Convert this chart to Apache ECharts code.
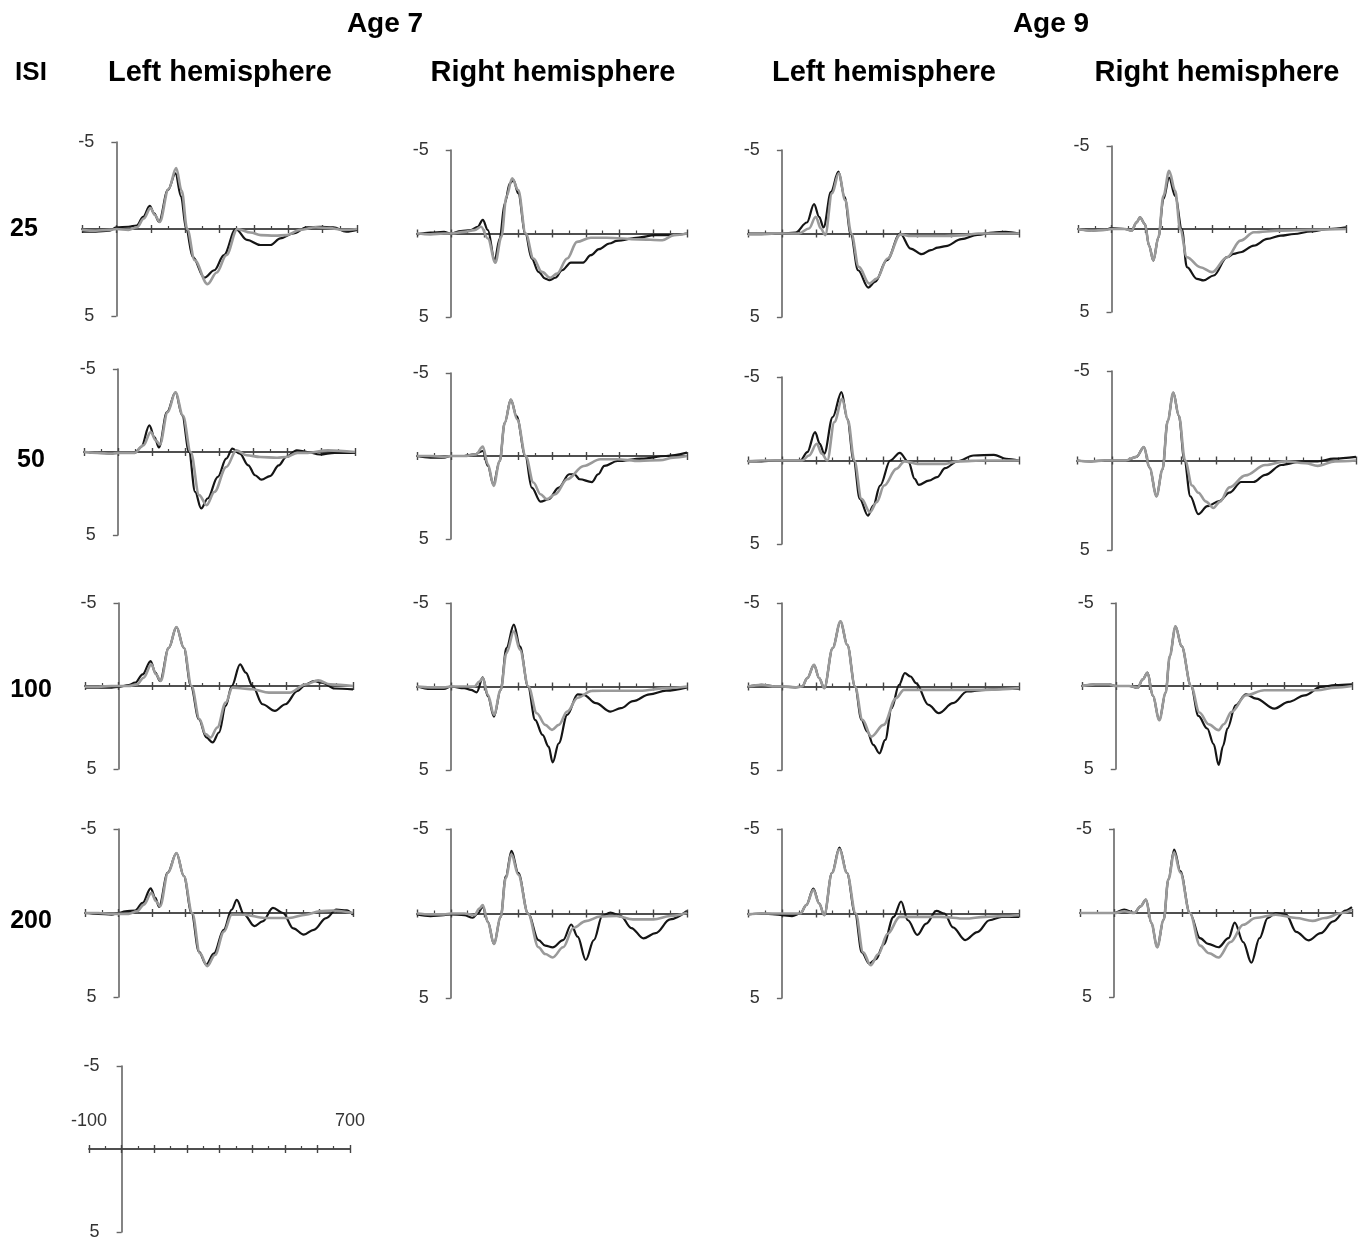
<!DOCTYPE html>
<html>
<head>
<meta charset="utf-8">
<script src="https://cdn.jsdelivr.net/npm/echarts@6/dist/echarts.min.js"></script>
<style>html,body{margin:0;padding:0;background:#fff}#c{width:1362px;height:1245px}</style>
</head>
<body>
<div id="c"></div>
<script>
// ---------- categories / labels ----------
const ages = ['Age 7', 'Age 9'];
const hemispheres = ['Left hemisphere', 'Right hemisphere'];
const isiLevels = ['25', '50', '100', '200'];
const yTickValues = [-5, 5];
const xTickLabelValues = [-100, 700];

// ---------- waveforms [ms, µV] (dark trace / grey trace) ----------
// Age 7, left hemisphere
const A7_LH_25_dark = [[-100,0.15],[-60,0.15],[-20,0.1],[0,-0.1],[35,-0.13],[59,-0.2],[78,-0.7],[97,-1.33],[110,-0.9],[124,-0.42],[150,-2.25],[172,-3.2],[188,-1.87],[203,0],[222,1.6],[256,2.8],[285,2.37],[313,1.5],[347,0],[380,0.63],[419,0.92],[448,0.92],[477,0.54],[515,0.25],[554,-0.1],[592,-0.13],[631,-0.1],[669,0.15],[700,0.05]];
const A7_LH_25_grey = [[-100,0.05],[-60,0.1],[-20,0.05],[0,0],[35,0.05],[60,-0.1],[80,-0.6],[99,-1.2],[112,-0.8],[126,-0.4],[152,-2.3],[174,-3.5],[190,-2.2],[206,0],[228,1.8],[265,3.17],[292,2.5],[320,1.5],[352,0],[390,0.2],[420,0.35],[460,0.38],[496,0.35],[535,0.05],[580,-0.1],[620,-0.05],[660,0.05],[700,0]];
const A7_LH_50_dark = [[-100,0],[-60,0.05],[-20,0.1],[0,0.05],[50,0.05],[69,-0.3],[93,-1.6],[108,-0.9],[121,-0.27],[145,-2.4],[170,-3.6],[190,-2.2],[210,0],[228,2.4],[246,3.4],[265,2.8],[295,1.5],[320,0.4],[338,-0.2],[360,0.1],[385,0.8],[405,1.4],[424,1.67],[449,1.45],[475,0.8],[497,0.3],[528,-0.1],[559,0],[596,0.15],[640,0.05],[700,0.05]];
const A7_LH_50_grey = [[-100,0],[-60,0.05],[-20,0.1],[0,0.05],[50,0.05],[75,-0.4],[97,-1.2],[112,-0.7],[124,-0.45],[147,-2.4],[170,-3.6],[192,-2.2],[215,0],[240,2.6],[262,3.2],[285,2.4],[320,0.9],[350,-0.1],[380,0.2],[420,0.3],[470,0.35],[497,0.3],[530,0.05],[560,0.05],[620,-0.1],[700,0]];
const A7_LH_100_dark = [[-100,0.1],[-60,0.1],[-20,0.1],[0,0.05],[30,-0.05],[50,-0.2],[72,-0.7],[96,-1.5],[110,-0.8],[124,-0.3],[150,-2.3],[173,-3.55],[195,-2.3],[216,0],[240,2.0],[262,3.1],[281,3.4],[300,2.8],[320,1.2],[338,0],[363,-1.3],[380,-0.8],[400,0],[430,1.1],[467,1.5],[498,1.1],[534,0.3],[560,-0.1],[583,-0.3],[608,-0.2],[645,0.15],[700,0.2]];
const A7_LH_100_grey = [[-100,0.05],[-60,0.05],[-20,0],[0,0],[30,0],[55,-0.1],[75,-0.5],[98,-1.3],[112,-0.7],[126,-0.3],[150,-2.3],[173,-3.55],[195,-2.3],[218,0],[242,2.0],[260,2.9],[275,3.1],[295,2.5],[320,1.0],[340,0.1],[370,0.15],[400,0.2],[449,0.4],[510,0.4],[559,-0.1],[596,-0.34],[632,-0.1],[700,0]];
const A7_LH_200_dark = [[-100,0],[-60,0.05],[-20,0.1],[0,0],[20,-0.1],[50,-0.15],[72,-0.6],[96,-1.47],[110,-0.9],[121,-0.37],[147,-2.4],[173,-3.57],[195,-2.2],[218,0],[240,2.3],[262,3.06],[285,2.4],[314,1.0],[338,-0.2],[353,-0.78],[375,0.1],[406,0.78],[430,0.5],[461,-0.3],[491,0],[522,0.92],[553,1.29],[583,1.0],[620,0.3],[650,-0.2],[681,-0.16],[700,0.1]];
const A7_LH_200_grey = [[-100,0],[-60,0],[-20,0.05],[0,0.05],[30,0.05],[55,-0.1],[76,-0.5],[98,-1.2],[112,-0.7],[124,-0.4],[148,-2.4],[173,-3.57],[195,-2.2],[220,0],[243,2.4],[265,3.16],[288,2.5],[315,1.1],[338,0.1],[375,0.1],[436,0.3],[510,0.3],[559,0.1],[600,-0.1],[640,-0.15],[700,0]];
// Age 7, right hemisphere
const A7_RH_25_dark = [[-100,0.05],[-60,-0.05],[-20,-0.1],[0,0],[30,-0.15],[60,-0.2],[80,-0.4],[95,-0.82],[110,-0.2],[130,1.6],[145,0.3],[160,-1.8],[175,-3.0],[186,-3.2],[200,-2.4],[221,0],[240,1.5],[260,2.3],[280,2.7],[292,2.8],[310,2.65],[330,2.2],[356,1.74],[392,1.74],[415,1.3],[439,0.94],[470,0.6],[492,0.44],[556,0.24],[604,0.1],[650,0.1],[700,0]];
const A7_RH_25_grey = [[-100,0],[-60,0.05],[-20,0],[0,0],[40,-0.1],[70,-0.2],[90,-0.4],[110,0.3],[132,1.75],[150,0.2],[165,-2.2],[182,-3.3],[200,-2.6],[222,0],[245,1.5],[270,2.3],[295,2.65],[315,2.4],[345,1.5],[374,0.5],[415,0.25],[462,0.25],[556,0.35],[627,0.4],[662,0.1],[700,0]];
const A7_RH_50_dark = [[-100,0],[-60,0.1],[-20,0.1],[0,0],[40,0],[70,-0.1],[95,-0.3],[110,0.6],[126,1.7],[145,0.3],[160,-2.0],[178,-3.4],[195,-2.4],[221,0],[240,1.9],[266,2.75],[290,2.6],[320,1.9],[351,1.1],[366,1.1],[382,1.4],[418,1.57],[437,1.1],[455,0.6],[494,0.3],[565,0.16],[638,0],[700,-0.2]];
const A7_RH_50_grey = [[-100,0],[-60,0],[-20,0.05],[0,0],[40,0],[75,-0.1],[95,-0.57],[110,0.5],[127,1.8],[145,0.3],[160,-2.0],[178,-3.4],[197,-2.2],[222,0],[245,1.6],[266,2.3],[284,2.6],[310,2.3],[345,1.4],[394,0.6],[443,0.2],[491,0.2],[560,0.3],[620,0.25],[660,0.1],[700,0]];
const A7_RH_100_dark = [[-100,0],[-60,0.15],[-20,0.15],[0,0],[40,0.1],[60,0.2],[77,0.35],[95,-0.55],[110,0.6],[128,1.8],[148,0.2],[165,-2.3],[187,-3.7],[205,-2.4],[229,0],[250,2.0],[272,2.9],[290,3.6],[302,4.55],[320,3.4],[345,1.7],[376,0.47],[394,0.5],[430,1.0],[473,1.5],[504,1.3],[540,0.88],[589,0.47],[638,0.25],[700,0.05]];
const A7_RH_100_grey = [[-100,0],[-60,0.05],[-20,0.05],[0,0],[40,0],[70,0],[85,-0.3],[95,-0.5],[110,0.5],[128,1.7],[148,0.2],[165,-2.0],[187,-3.3],[205,-2.2],[230,0],[255,1.6],[280,2.3],[300,2.6],[320,2.3],[345,1.5],[376,0.67],[418,0.26],[480,0.25],[560,0.25],[640,0.1],[700,0]];
const A7_RH_200_dark = [[-100,0.05],[-60,0.15],[-20,0.1],[0,0.05],[40,0.1],[65,0.25],[80,0],[95,-0.4],[110,0.5],[128,1.8],[148,0.2],[163,-2.2],[180,-3.7],[200,-2.4],[229,0],[260,1.57],[280,1.9],[302,2.0],[333,1.57],[357,0.65],[376,1.37],[400,2.75],[424,1.57],[449,0.14],[473,-0.06],[504,0.15],[535,0.86],[571,1.47],[607,1.16],[650,0.35],[700,-0.15]];
const A7_RH_200_grey = [[-100,0],[-60,0.05],[-20,0.05],[0,0],[40,0],[70,0.1],[85,-0.3],[95,-0.5],[110,0.5],[128,1.8],[148,0.2],[163,-2.1],[180,-3.5],[200,-2.3],[229,0],[260,2.0],[280,2.4],[302,2.6],[333,2.0],[363,0.86],[400,0.45],[443,0.18],[491,0.15],[540,0.35],[601,0.35],[650,0.15],[700,-0.05]];
// Age 9, left hemisphere
const A9_LH_25_dark = [[-100,0],[-60,0],[-20,0],[0,0],[40,-0.05],[74,-0.66],[95,-1.76],[110,-1.0],[123,-0.36],[145,-2.5],[167,-3.7],[185,-2.2],[203,0],[225,2.2],[255,3.24],[275,2.9],[310,1.6],[349,0],[380,0.9],[413,1.24],[440,1.0],[460,0.84],[484,0.76],[530,0.34],[577,0.08],[624,-0.06],[660,-0.1],[700,0]];
const A9_LH_25_grey = [[-100,0.05],[-60,0.05],[-20,0],[0,0],[50,0],[80,-0.3],[100,-1.0],[115,-0.3],[128,0.1],[148,-2.4],[168,-3.6],[187,-2.0],[205,0],[227,2.0],[258,3.0],[280,2.7],[312,1.5],[350,0.05],[380,0.15],[420,0.15],[480,0.15],[540,0.1],[580,0],[700,0]];
const A9_LH_50_dark = [[-100,0.05],[-60,0.05],[-20,0],[0,0],[55,0],[75,-0.5],[98,-1.7],[112,-1.0],[125,-0.4],[150,-2.6],[176,-4.1],[193,-2.5],[212,0],[230,2.3],[254,3.3],[270,2.7],[290,1.5],[320,0],[348,-0.46],[374,0.1],[392,1.1],[404,1.46],[434,1.2],[458,1.0],[482,0.46],[518,0.05],[566,-0.3],[626,-0.34],[662,-0.1],[700,0]];
const A9_LH_50_grey = [[-100,0.05],[-60,0],[-20,0],[0,0],[60,0],[80,-0.3],[103,-1.0],[118,-0.4],[134,0],[155,-2.3],[178,-3.7],[195,-2.4],[214,0],[235,2.3],[260,3.1],[280,2.5],[302,1.5],[338,0.5],[362,0.05],[400,0.2],[482,0.2],[520,0.05],[600,0],[700,0]];
const A9_LH_100_dark = [[-100,0],[-60,-0.1],[-20,0],[0,0],[40,0.05],[60,0],[75,-0.5],[95,-1.3],[110,-0.5],[125,0.1],[150,-2.3],[173,-3.9],[193,-2.5],[216,0],[235,2.0],[252,2.7],[270,3.5],[288,4.0],[305,3.2],[324,1.3],[346,-0.1],[363,-0.8],[380,-0.6],[396,-0.2],[433,1.1],[463,1.6],[505,1.0],[547,0.3],[601,0.2],[650,0.15],[700,0.15]];
const A9_LH_100_grey = [[-100,0],[-60,-0.1],[-20,0],[0,0],[40,0.05],[60,0],[75,-0.5],[95,-1.3],[110,-0.5],[125,0.1],[150,-2.3],[173,-3.9],[193,-2.5],[216,0],[238,2.0],[264,3.0],[300,2.3],[337,0.7],[360,0.2],[420,0.2],[500,0.2],[600,0.2],[700,0.1]];
const A9_LH_200_dark = [[-100,0.05],[-60,0],[-20,0.05],[0,0.1],[30,0.15],[55,0],[72,-0.5],[93,-1.47],[110,-0.6],[125,0.1],[148,-2.4],[170,-3.9],[192,-2.4],[216,0],[236,2.3],[258,2.96],[278,2.7],[300,1.84],[330,0.2],[352,-0.71],[372,0.4],[400,1.27],[426,0.6],[456,-0.16],[480,0],[505,0.82],[541,1.57],[577,1.1],[613,0.4],[649,0.2],[700,0.2]];
const A9_LH_200_grey = [[-100,0.05],[-60,0],[-20,0],[0,0],[30,0],[55,0],[72,-0.5],[93,-1.4],[110,-0.6],[125,0.1],[148,-2.4],[170,-3.8],[192,-2.4],[218,0],[240,2.3],[262,3.06],[285,2.4],[312,1.2],[348,0.2],[396,0.2],[468,0.2],[541,0.3],[600,0.2],[650,0.15],[700,0.1]];
// Age 9, right hemisphere
const A9_RH_25_dark = [[-100,0],[-60,0.1],[-20,0.05],[0,-0.05],[40,0],[60,0.1],[75,-0.4],[85,-0.7],[100,-0.3],[112,1.0],[125,1.9],[140,0.5],[155,-1.8],[172,-3.1],[190,-2.0],[210,0],[225,2.3],[255,3.0],[275,3.1],[305,2.8],[345,1.7],[365,1.5],[385,1.4],[425,1.0],[465,0.6],[505,0.4],[545,0.3],[595,0.15],[650,0],[700,-0.1]];
const A9_RH_25_grey = [[-100,0],[-60,0.1],[-20,0.05],[0,0],[40,0],[60,0.1],[75,-0.4],[85,-0.7],[100,-0.3],[112,1.0],[125,1.9],[140,0.5],[155,-2.0],[172,-3.5],[190,-2.3],[205,0],[225,1.7],[265,2.3],[300,2.6],[345,1.7],[385,0.7],[425,0.2],[500,0.1],[600,0.05],[700,0]];
const A9_RH_50_dark = [[-100,0],[-60,0.05],[-20,0],[0,0],[40,0],[70,-0.2],[92,-0.75],[108,0.4],[128,2.0],[145,0.5],[160,-2.2],[176,-3.8],[192,-2.5],[208,0],[225,2.0],[248,3.0],[274,2.55],[308,2.27],[337,1.8],[371,1.2],[406,1.2],[440,0.8],[486,0.25],[544,0.05],[590,0.05],[636,-0.1],[700,-0.2]];
const A9_RH_50_grey = [[-100,0],[-60,0.05],[-20,0],[0,0],[40,0],[70,-0.2],[92,-0.75],[108,0.4],[128,2.0],[145,0.5],[160,-2.2],[176,-3.8],[192,-2.5],[210,0],[230,1.4],[248,1.8],[270,2.3],[291,2.65],[310,2.3],[337,1.5],[383,0.83],[440,0.25],[497,0.05],[555,0.15],[590,0.3],[640,0.05],[700,0]];
const A9_RH_100_dark = [[-100,0],[-60,-0.1],[-20,-0.1],[0,0],[40,0],[65,0.1],[80,-0.4],[94,-0.8],[110,0.6],[129,2.06],[148,0.4],[160,-1.8],[177,-3.6],[195,-2.4],[223,0],[245,1.8],[271,2.56],[290,3.5],[305,4.76],[318,3.6],[331,2.56],[355,1.16],[386,0.5],[416,0.76],[470,1.36],[512,0.96],[560,0.56],[608,0.05],[650,-0.05],[700,-0.1]];
const A9_RH_100_grey = [[-100,0],[-60,-0.1],[-20,-0.1],[0,0],[40,0],[65,0.1],[80,-0.4],[94,-0.8],[110,0.6],[129,2.06],[148,0.4],[160,-1.8],[177,-3.6],[195,-2.4],[223,0],[248,1.6],[275,2.3],[305,2.66],[320,2.3],[343,1.56],[386,0.56],[440,0.26],[536,0.26],[596,0.26],[650,0.1],[700,0]];
const A9_RH_200_dark = [[-100,0],[-60,0],[-20,0],[0,0],[30,-0.2],[60,0],[78,-0.4],[94,-0.8],[110,0.6],[127,2.04],[146,0.4],[160,-2.0],[177,-3.78],[195,-2.5],[223,0],[253,1.5],[277,1.84],[307,2.04],[337,1.5],[355,0.57],[380,1.73],[404,2.96],[428,1.5],[452,0.3],[476,0],[506,0.1],[536,1.12],[572,1.63],[608,1.2],[645,0.5],[681,-0.15],[700,-0.35]];
const A9_RH_200_grey = [[-100,0],[-60,0],[-20,0],[0,0],[30,-0.1],[60,0],[78,-0.4],[94,-0.8],[110,0.6],[127,2.04],[146,0.4],[160,-2.0],[177,-3.6],[195,-2.4],[223,0],[253,1.94],[280,2.4],[307,2.65],[343,1.73],[380,0.7],[416,0.3],[476,0.1],[536,0.3],[584,0.47],[620,0.3],[670,0],[700,-0.2]];

// ---------- layout (pixel boxes of each panel: left, right, top(-5), bottom(+5)) ----------
const panelBoxes = [
  [[82,357,142,316],[417,687,150,317],[748,1019,150,317],[1078,1346,146,312]],
  [[84,355,369,535],[417,687,373,539],[748,1019,377,544],[1077,1356,371,550]],
  [[85,353,603,769],[417,687,603,770],[748,1019,603,770],[1082,1352,603,769]],
  [[85,353,829,997],[417,687,829,998],[748,1019,829,998],[1080,1352,829,997]]
];
const legendBox = [89,350,1066,1232];

const panelData = [
  [[A7_LH_25_dark,A7_LH_25_grey],[A7_RH_25_dark,A7_RH_25_grey],[A9_LH_25_dark,A9_LH_25_grey],[A9_RH_25_dark,A9_RH_25_grey]],
  [[A7_LH_50_dark,A7_LH_50_grey],[A7_RH_50_dark,A7_RH_50_grey],[A9_LH_50_dark,A9_LH_50_grey],[A9_RH_50_dark,A9_RH_50_grey]],
  [[A7_LH_100_dark,A7_LH_100_grey],[A7_RH_100_dark,A7_RH_100_grey],[A9_LH_100_dark,A9_LH_100_grey],[A9_RH_100_dark,A9_RH_100_grey]],
  [[A7_LH_200_dark,A7_LH_200_grey],[A7_RH_200_dark,A7_RH_200_grey],[A9_LH_200_dark,A9_LH_200_grey],[A9_RH_200_dark,A9_RH_200_grey]]
];

const FONT = '"Liberation Sans", Arial, sans-serif';
const axisColor = '#444';
const grids = [], xAxes = [], yAxes = [], series = [];

function addPanel(box, traces, showXLabels) {
  const gi = grids.length;
  const W = box[1] - box[0], H = box[3] - box[2];
  grids.push({ left: box[0], top: box[2], width: W, height: H, containLabel: false });
  const xBase = {
    type: 'value', gridIndex: gi, min: -100, max: 700, interval: 100,
    splitLine: { show: false },
    axisLine: { show: true, onZero: true, onZeroAxisIndex: gi, lineStyle: { color: axisColor, width: 1.6 } }
  };
  xAxes.push(Object.assign({}, xBase, {
    position: 'bottom',
    axisTick: { show: true, inside: false, length: 4, lineStyle: { color: axisColor, width: 1.4 } },
    axisLabel: { show: false }
  }));
  xAxes.push(Object.assign({}, xBase, {
    position: 'top',
    axisTick: { show: true, inside: false, length: 4, lineStyle: { color: axisColor, width: 1.4 } },
    minorTick: { show: true, splitNumber: 2, length: 3, lineStyle: { color: axisColor, width: 1.2 } },
    axisLabel: {
      show: !!showXLabels, margin: -(H / 2 - 28 + 9), fontSize: 18, color: '#333', fontFamily: FONT,
      formatter: v => (xTickLabelValues.indexOf(v) >= 0 ? String(v) : '')
    }
  }));
  yAxes.push({
    type: 'value', gridIndex: gi, min: -5, max: 5, interval: 5, inverse: true, position: 'left',
    splitLine: { show: false },
    axisLine: { show: true, onZero: true, onZeroAxisIndex: 2 * gi, lineStyle: { color: '#666', width: 1.6 } },
    axisTick: { show: true, inside: false, length: 5, customValues: yTickValues, lineStyle: { color: '#666', width: 1.4 } },
    axisLabel: {
      show: true, margin: 22 - W / 8, fontSize: 18, color: '#333', fontFamily: FONT, customValues: yTickValues,
      formatter: v => (yTickValues.indexOf(v) >= 0 ? String(v) : '')
    }
  });
  if (traces) {
    const styles = [{ color: '#151515', width: 2.2 }, { color: '#9a9a9a', width: 2.6 }];
    traces.forEach((d, k) => {
      series.push({
        type: 'line', xAxisIndex: 2 * gi, yAxisIndex: gi, data: d,
        showSymbol: false, smooth: 0.35, smoothMonotone: 'x',
        lineStyle: styles[k], z: 2 + k, silent: true
      });
    });
  }
}

for (let r = 0; r < 4; r++) for (let c = 0; c < 4; c++) addPanel(panelBoxes[r][c], panelData[r][c], false);
addPanel(legendBox, null, true);

const textEls = [];
function txt(s, x, y, size) {
  textEls.push({ type: 'text', x: x, y: y, style: { text: s, font: 'bold ' + size + 'px ' + FONT, fill: '#000', textAlign: 'center', textVerticalAlign: 'middle' } });
}
txt(ages[0], 385, 24, 28);
txt(ages[1], 1051, 24, 28);
txt('ISI', 31, 73, 26);
txt(hemispheres[0], 220, 73, 29);
txt(hemispheres[1], 553, 73, 29);
txt(hemispheres[0], 884, 73, 29);
txt(hemispheres[1], 1217, 73, 29);
const rowLabelPos = [[24,229],[31,460],[31,690],[31,921]];
isiLevels.forEach((s, i) => txt(s, rowLabelPos[i][0], rowLabelPos[i][1], 25));

const chart = echarts.init(document.getElementById('c'), null, { renderer: 'canvas' });
chart.setOption({
  animation: false,
  backgroundColor: '#fff',
  grid: grids, xAxis: xAxes, yAxis: yAxes, series: series,
  graphic: textEls
});
</script>
</body>
</html>
